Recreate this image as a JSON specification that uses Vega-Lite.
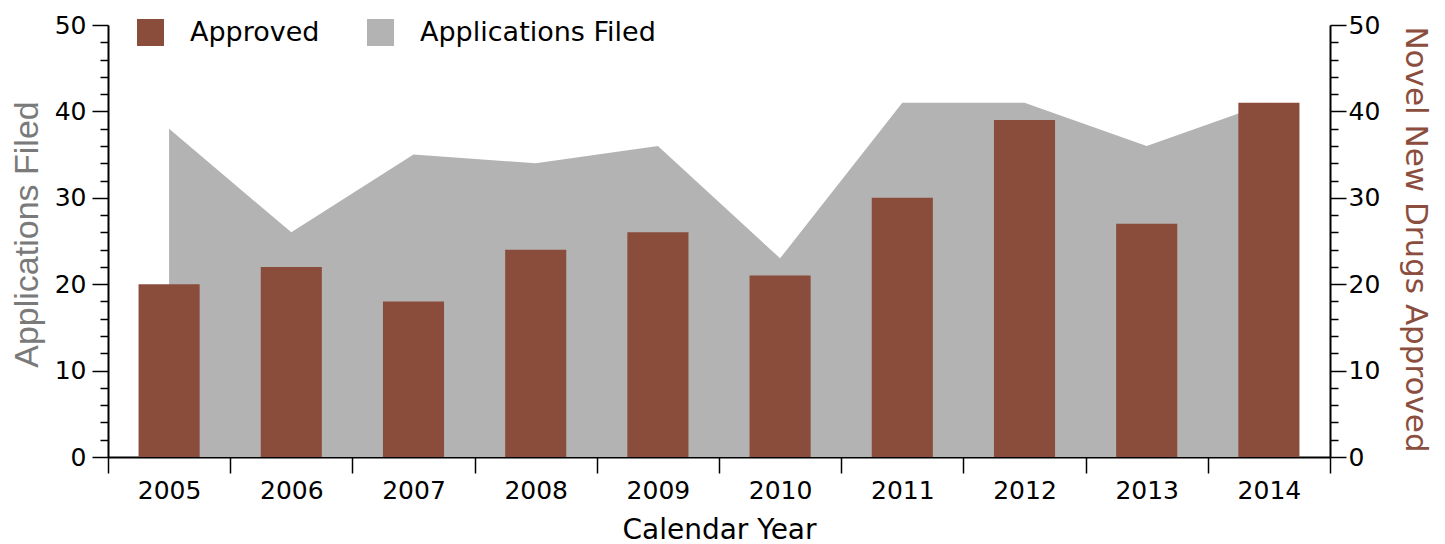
{
  "$schema": "https://vega.github.io/schema/vega-lite/v6.json",
  "width": 1222,
  "height": 432,
  "autosize": {"type": "none"},
  "padding": {"left": 108, "top": 25, "right": 115, "bottom": 87},
  "background": "white",
  "config": {"view": {"stroke": null}, "font": "DejaVu Sans"},
  "data": {
    "values": [
      {"year": "2005", "approved": 20, "filed": 38},
      {"year": "2006", "approved": 22, "filed": 26},
      {"year": "2007", "approved": 18, "filed": 35},
      {"year": "2008", "approved": 24, "filed": 34},
      {"year": "2009", "approved": 26, "filed": 36},
      {"year": "2010", "approved": 21, "filed": 23},
      {"year": "2011", "approved": 30, "filed": 41},
      {"year": "2012", "approved": 39, "filed": 41},
      {"year": "2013", "approved": 27, "filed": 36},
      {"year": "2014", "approved": 41, "filed": 41}
    ]
  },
  "encoding": {
    "x": {
      "field": "year",
      "type": "ordinal",
      "scale": {"type": "band", "paddingInner": 0, "paddingOuter": 0},
      "axis": {
        "title": "Calendar Year",
        "labelAngle": 0,
        "tickBand": "extent",
        "tickSize": 16,
        "tickWidth": 1.5,
        "tickColor": "black",
        "domainColor": "black",
        "domainWidth": 2,
        "labelFont": "DejaVu Sans",
        "labelFontSize": 25,
        "labelPadding": 5,
        "labelColor": "black",
        "titleFont": "DejaVu Sans",
        "titleFontSize": 28,
        "titleFontWeight": "normal",
        "titleColor": "black",
        "titleX": 611,
        "titleY": 81,
        "titleAlign": "center",
        "titleBaseline": "alphabetic"
      }
    }
  },
  "layer": [
    {
      "mark": {"type": "area", "color": "#B3B3B3"},
      "encoding": {
        "y": {
          "field": "filed",
          "type": "quantitative",
          "scale": {"domain": [0, 50], "nice": false},
          "axis": {
            "orient": "left",
            "title": "Applications Filed",
            "titleFont": "Liberation Sans",
            "titleFontSize": 34,
            "titleFontWeight": "normal",
            "titleColor": "#7A7A7A",
            "titleAngle": -90,
            "titleX": -71,
            "titleY": 209,
            "titleAlign": "center",
            "titleBaseline": "alphabetic",
            "values": [0, 2, 4, 6, 8, 10, 12, 14, 16, 18, 20, 22, 24, 26, 28, 30, 32, 34, 36, 38, 40, 42, 44, 46, 48, 50],
            "tickSize": {"condition": {"test": "datum.value % 10 === 0", "value": 16}, "value": 8},
            "labelExpr": "datum.value % 10 === 0 ? datum.label : ''",
            "labelFont": "DejaVu Sans",
            "labelFontSize": 25,
            "labelPadding": 6,
            "labelColor": "black",
            "labelOverlap": false,
            "labelFlush": false,
            "labelBound": false,
            "domainColor": "black",
            "domainWidth": 2,
            "tickColor": "black",
            "tickWidth": 1.5,
            "grid": false
          }
        },
        "fill": {
          "datum": "Applications Filed",
          "scale": {"range": ["#B3B3B3"]},
          "legend": {
            "orient": "none",
            "legendX": 259,
            "legendY": -6,
            "title": null,
            "padding": 0,
            "symbolType": "square",
            "symbolSize": 729,
            "symbolStrokeWidth": 0,
            "symbolOpacity": 1,
            "labelOffset": 26,
            "labelLimit": 500,
            "labelFont": "DejaVu Sans",
            "labelFontSize": 27,
            "labelColor": "black"
          }
        }
      }
    },
    {
      "mark": {"type": "bar", "color": "#8A4D3B", "width": {"band": 0.5}},
      "encoding": {
        "y": {
          "field": "approved",
          "type": "quantitative",
          "scale": {"domain": [0, 50], "nice": false},
          "axis": {
            "orient": "right",
            "title": "Novel New Drugs Approved",
            "titleFont": "DejaVu Sans",
            "titleFontSize": 31,
            "titleFontWeight": "normal",
            "titleColor": "#8B4E3E",
            "titleAngle": 90,
            "titleX": 75,
            "titleY": 214,
            "titleAlign": "center",
            "titleBaseline": "alphabetic",
            "values": [0, 2, 4, 6, 8, 10, 12, 14, 16, 18, 20, 22, 24, 26, 28, 30, 32, 34, 36, 38, 40, 42, 44, 46, 48, 50],
            "tickSize": {"condition": {"test": "datum.value % 10 === 0", "value": 16}, "value": 8},
            "labelExpr": "datum.value % 10 === 0 ? datum.label : ''",
            "labelFont": "DejaVu Sans",
            "labelFontSize": 25,
            "labelPadding": 2,
            "labelColor": "black",
            "labelOverlap": false,
            "labelFlush": false,
            "labelBound": false,
            "domainColor": "black",
            "domainWidth": 2,
            "tickColor": "black",
            "tickWidth": 1.5,
            "grid": false
          }
        },
        "color": {
          "datum": "Approved",
          "scale": {"range": ["#8A4D3B"]},
          "legend": {
            "orient": "none",
            "legendX": 29,
            "legendY": -6,
            "title": null,
            "padding": 0,
            "symbolType": "square",
            "symbolSize": 729,
            "symbolStrokeWidth": 0,
            "symbolOpacity": 1,
            "labelOffset": 26,
            "labelLimit": 500,
            "labelFont": "DejaVu Sans",
            "labelFontSize": 27,
            "labelColor": "black"
          }
        }
      }
    }
  ],
  "resolve": {"scale": {"y": "independent"}}
}
